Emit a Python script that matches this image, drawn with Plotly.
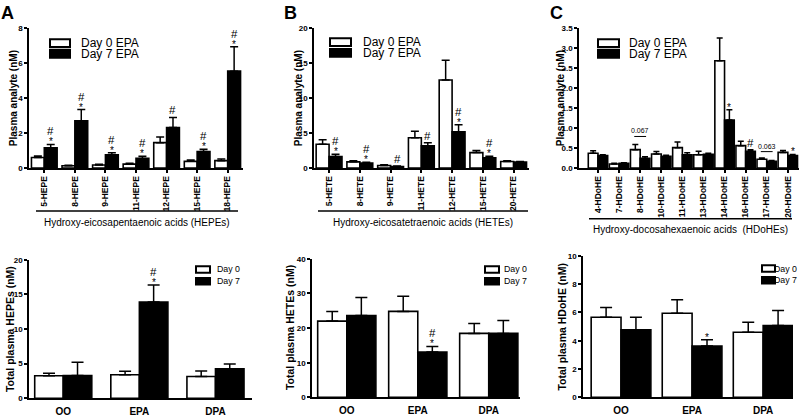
import plotly.graph_objects as go

W, H = 800, 417
FONT = "Arial, 'Liberation Sans', Helvetica, sans-serif"

# ---------------- data ----------------
hepe_cats = ["5-HEPE", "8-HEPE", "9-HEPE", "11-HEPE", "12-HEPE", "15-HEPE", "18-HEPE"]
hepe_d0 = [0.60, 0.13, 0.17, 0.22, 1.45, 0.38, 0.42]
hepe_d0_err = [0.08, 0.03, 0.04, 0.05, 0.32, 0.08, 0.09]
hepe_d7 = [1.15, 2.70, 0.75, 0.55, 2.32, 0.94, 5.55]
hepe_d7_err = [0.20, 0.65, 0.12, 0.12, 0.58, 0.14, 1.40]
hepe_sig = ["*#", "*#", "*#", "*#", "#", "*#", "*#"]

hete_cats = ["5-HETE", "8-HETE", "9-HETE", "11-HETE", "12-HETE", "15-HETE", "20-HETE"]
hete_d0 = [3.40, 0.88, 0.35, 4.33, 12.60, 2.20, 0.92]
hete_d0_err = [0.65, 0.14, 0.10, 0.93, 2.85, 0.32, 0.10]
hete_d7 = [1.63, 0.70, 0.22, 3.16, 5.20, 1.44, 0.86]
hete_d7_err = [0.32, 0.12, 0.06, 0.47, 1.00, 0.23, 0.08]
hete_sig = ["*#", "*#", "#", "#", "*#", "*#", ""]

hdohe_cats = ["4-HDoHE", "7-HDoHE", "8-HDoHE", "10-HDoHE", "11-HDoHE",
              "13-HDoHE", "14-HDoHE", "16-HDoHE", "17-HDoHE", "20-HDoHE"]
hdohe_d0 = [0.37, 0.10, 0.46, 0.35, 0.51, 0.33, 2.69, 0.56, 0.22, 0.39]
hdohe_d0_err = [0.06, 0.02, 0.13, 0.06, 0.14, 0.09, 0.57, 0.11, 0.03, 0.05]
hdohe_d7 = [0.31, 0.12, 0.24, 0.29, 0.33, 0.34, 1.20, 0.42, 0.17, 0.31]
hdohe_d7_err = [0.02, 0.01, 0.04, 0.03, 0.05, 0.03, 0.26, 0.04, 0.02, 0.03]
hdohe_sig = ["", "", "", "", "", "", "*", "#", "", "*"]
hdohe_trend_idx = [2, 8]
hdohe_trend_p = ["0.067", "0.063"]
hdohe_trend_y = [0.79, 0.41]

groups = ["OO", "EPA", "DPA"]
tot_hepe_d0 = [3.25, 3.40, 3.15]
tot_hepe_d0_err = [0.37, 0.50, 0.80]
tot_hepe_d7 = [3.30, 13.90, 4.25]
tot_hepe_d7_err = [1.90, 2.45, 0.70]
tot_hepe_sig = ["", "*#", ""]

tot_hete_d0 = [22.0, 24.8, 18.45]
tot_hete_d0_err = [2.8, 4.4, 2.85]
tot_hete_d7 = [23.6, 13.1, 18.45]
tot_hete_d7_err = [5.2, 1.6, 3.75]
tot_hete_sig = ["", "*#", ""]

tot_hdohe_d0 = [5.66, 5.94, 4.60]
tot_hdohe_d0_err = [0.68, 0.95, 0.71]
tot_hdohe_d7 = [4.78, 3.63, 5.08]
tot_hdohe_d7_err = [0.88, 0.43, 1.06]
tot_hdohe_sig = ["", "*", ""]

# ---------------- panel layout (pixel geometry) ----------------
panels = [
    dict(cats=hepe_cats, d0=hepe_d0, d0e=hepe_d0_err, d7=hepe_d7, d7e=hepe_d7_err, sig=hepe_sig,
         px=(29, 243), py=(168, 25), yr=(0, 8), dtick=2, rng=(-0.5, 6.5), w=0.42, cap=4,
         top=True, fmt="", ytitle="Plasma analyte (nM)", ytx=13,
         leg=("Day 0 EPA", "Day 7 EPA"), legx=(50, 70, 79, "left"), legy=(40, 51),
         letter="A", letx=7,
         gline=(36, 238, 212), gtext="Hydroxy-eicosapentaenoic acids (HEPEs)", gty=224),
    dict(cats=hete_cats, d0=hete_d0, d0e=hete_d0_err, d7=hete_d7, d7e=hete_d7_err, sig=hete_sig,
         px=(314, 529), py=(168, 25), yr=(0, 20), dtick=5, rng=(-0.49, 6.5), w=0.42, cap=4,
         top=True, fmt="", ytitle="Plasma analyte (nM)", ytx=298,
         leg=("Day 0 EPA", "Day 7 EPA"), legx=(330, 351, 361, "left"), legy=(39, 50),
         letter="B", letx=290,
         gline=(318, 528, 212), gtext="Hydroxy-eicosatetraenoic acids (HETEs)", gty=224),
    dict(cats=hdohe_cats, d0=hdohe_d0, d0e=hdohe_d0_err, d7=hdohe_d7, d7e=hdohe_d7_err, sig=hdohe_sig,
         px=(579, 799), py=(168, 25), yr=(0, 3.5), dtick=0.5, rng=(-0.9, 9.53), w=0.46, cap=3,
         top=True, fmt=".1f", ytitle="Plasma analyte (nM)", ytx=560,
         leg=("Day 0 EPA", "Day 7 EPA"), legx=(598, 619, 627, "left"), legy=(40, 51),
         letter="C", letx=556,
         gline=(589, 792, 220), gtext="Hydroxy-docosahexaenoic acids  (HDoHEs)", gty=231),
    dict(cats=groups, d0=tot_hepe_d0, d0e=tot_hepe_d0_err, d7=tot_hepe_d7, d7e=tot_hepe_d7_err, sig=tot_hepe_sig,
         px=(29, 252), py=(404, 262), yr=(0, 20), dtick=5, rng=(-0.45, 2.48), w=0.375, cap=6,
         top=False, fmt="", ytitle="Total plasma HEPEs (nM)", ytx=10,
         leg=("Day 0", "Day 7"), legx=(196, 210, 215, "left"), legy=(272, 284)),
    dict(cats=groups, d0=tot_hete_d0, d0e=tot_hete_d0_err, d7=tot_hete_d7, d7e=tot_hete_d7_err, sig=tot_hete_sig,
         px=(312, 520), py=(403, 261), yr=(0, 40), dtick=10, rng=(-0.49, 2.44), w=0.41, cap=6,
         top=False, fmt="", ytitle="Total plasma HETEs (nM)", ytx=290,
         leg=("Day 0", "Day 7"), legx=(485, 499, 502, "left"), legy=(272, 284)),
    dict(cats=groups, d0=tot_hdohe_d0, d0e=tot_hdohe_d0_err, d7=tot_hdohe_d7, d7e=tot_hdohe_d7_err, sig=tot_hdohe_sig,
         px=(583, 793), py=(403, 258), yr=(0, 10), dtick=2, rng=(-0.535, 2.42), w=0.42, cap=6,
         top=False, fmt="", ytitle="Total plasma HDoHE (nM)", ytx=562,
         leg=("Day 0", "Day 7"), legx=(762, 775, 799, "right"), legy=(271, 283)),
]


def fx(p):
    return p / W


def fy(p):
    return (H - p) / H


fig = go.Figure()
annotations = []
shapes = []
layout_axes = {}

for k, P in enumerate(panels, start=1):
    xa = "x" if k == 1 else f"x{k}"
    ya = "y" if k == 1 else f"y{k}"
    xkey = "xaxis" if k == 1 else f"xaxis{k}"
    ykey = "yaxis" if k == 1 else f"yaxis{k}"
    w = P["w"]
    err_style = dict(type="data", symmetric=False, arrayminus=[0] * len(P["cats"]),
                     color="black", thickness=1.5, width=P["cap"])
    fig.add_trace(go.Bar(
        x=P["cats"], y=P["d0"], width=w, offset=-w, xaxis=xa, yaxis=ya,
        marker=dict(color="white", line=dict(color="black", width=1.6)),
        error_y=dict(array=P["d0e"], **err_style), showlegend=False, name=P["leg"][0]))
    fig.add_trace(go.Bar(
        x=P["cats"], y=P["d7"], width=w, offset=0, xaxis=xa, yaxis=ya,
        marker=dict(color="black", line=dict(color="black", width=1.6)),
        error_y=dict(array=P["d7e"], **err_style), showlegend=False, name=P["leg"][1]))

    layout_axes[xkey] = dict(
        domain=[fx(P["px"][0]), fx(P["px"][1])], anchor=ya, type="category",
        range=list(P["rng"]), showline=True, linecolor="black", linewidth=1.5,
        showgrid=False, zeroline=False, fixedrange=True,
        ticks="outside" if P["top"] else "", ticklen=3, tickwidth=1.5, tickcolor="black",
        tickangle=-90 if P["top"] else 0, ticklabelstandoff=0 if P["top"] else 3,
        tickfont=dict(size=8.5 if P["top"] else 10, family=FONT, color="black", weight="bold"),
    )
    layout_axes[ykey] = dict(
        domain=[fy(P["py"][0]), fy(P["py"][1])], anchor=xa, range=list(P["yr"]),
        dtick=P["dtick"], tick0=0, tickformat=P["fmt"],
        showline=True, linecolor="black", linewidth=1.5, showgrid=False, zeroline=False,
        ticks="outside", ticklen=3, tickwidth=1.5, tickcolor="black",
        tickfont=dict(size=8, family=FONT, color="black", weight="bold"), fixedrange=True,
    )

    # y title
    annotations.append(dict(
        text=P["ytitle"], xref="paper", yref="paper", x=fx(P["ytx"]),
        y=(fy(P["py"][0]) + fy(P["py"][1])) / 2, textangle=-90, showarrow=False,
        xanchor="center", yanchor="middle",
        font=dict(size=10 if P["top"] else 10.5, family=FONT, color="black", weight="bold")))

    # significance markers above day-7 bars
    for i, s in enumerate(P["sig"]):
        if not s:
            continue
        top = P["d7"][i] + P["d7e"][i]
        if "*" in s:
            annotations.append(dict(text="*", x=i + w / 2, y=top, xref=xa, yref=ya,
                                    showarrow=False, yanchor="bottom", yshift=-5,
                                    font=dict(size=10, family=FONT, color="black")))
        if "#" in s:
            annotations.append(dict(text="#", x=i + w / 2, y=top, xref=xa, yref=ya,
                                    showarrow=False, yanchor="bottom",
                                    yshift=5 if "*" in s else -1,
                                    font=dict(size=11.5, family=FONT, color="black")))

    # legend keys
    bx0, bx1, tx, tanchor = P["legx"]
    bh = 4 if P["top"] else 3.3
    for j, (label, fill) in enumerate(zip(P["leg"], ["white", "black"])):
        cy = P["legy"][j]
        shapes.append(dict(type="rect", xref="paper", yref="paper",
                           x0=fx(bx0), x1=fx(bx1), y0=fy(cy + bh), y1=fy(cy - bh),
                           fillcolor=fill, line=dict(color="black", width=2)))
        annotations.append(dict(text=label, xref="paper", yref="paper", x=fx(tx), y=fy(cy),
                                xanchor=tanchor, yanchor="middle", showarrow=False,
                                font=dict(size=12 if P["top"] else 8.8, family=FONT, color="black")))

    if P["top"]:
        annotations.append(dict(text=P["letter"], xref="paper", yref="paper", x=fx(P["letx"]),
                                y=fy(9), xanchor="center", yanchor="middle", showarrow=False,
                                font=dict(size=18, family=FONT, color="black", weight="bold")))
        gx0, gx1, gy = P["gline"]
        shapes.append(dict(type="line", xref="paper", yref="paper", x0=fx(gx0), x1=fx(gx1),
                           y0=fy(gy), y1=fy(gy), line=dict(color="black", width=1.5)))
        annotations.append(dict(text=P["gtext"], xref="paper", yref="paper",
                                x=fx((gx0 + gx1) / 2), y=fy(P["gty"]), xanchor="center",
                                yanchor="middle", showarrow=False,
                                font=dict(size=10, family=FONT, color="black")))

# trend p-value bars in panel C
for idx, ptxt, yv in zip(hdohe_trend_idx, hdohe_trend_p, hdohe_trend_y):
    shapes.append(dict(type="line", xref="x3", yref="y3", x0=idx - 0.28, x1=idx + 0.28,
                       y0=yv, y1=yv, line=dict(color="black", width=1)))
    annotations.append(dict(text=ptxt, xref="x3", yref="y3", x=idx, y=yv, yanchor="bottom",
                            showarrow=False, yshift=0,
                            font=dict(size=7, family=FONT, color="black")))

fig.update_layout(
    width=W, height=H, margin=dict(l=0, r=0, t=0, b=0),
    paper_bgcolor="white", plot_bgcolor="white", barmode="overlay", showlegend=False,
    font=dict(family=FONT, color="black"),
    annotations=annotations, shapes=shapes, **layout_axes,
)

fig.write_html("out.html", config={"displayModeBar": False},
               post_script="document.body.style.margin='0';document.body.style.overflow='hidden';")
